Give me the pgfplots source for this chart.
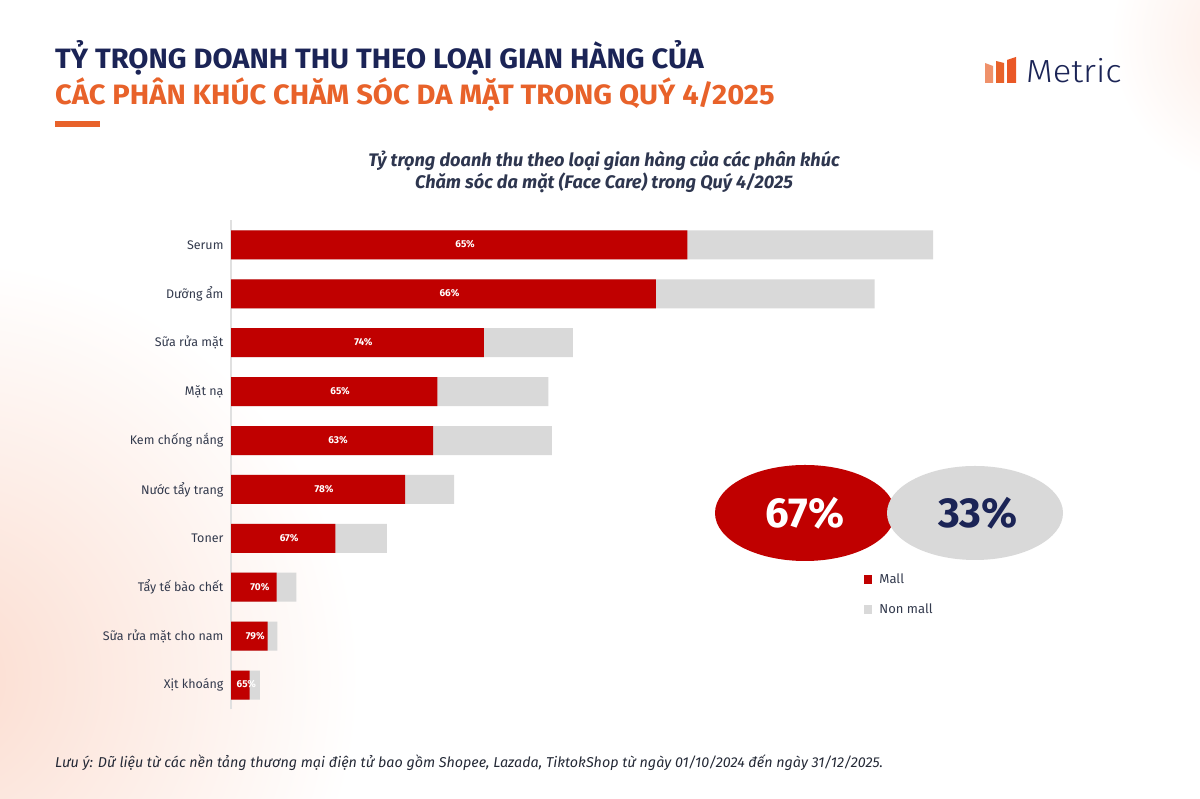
\documentclass[border=0pt]{standalone}
\usepackage{fontspec}
\setmainfont{Fira Sans}
\newfontfamily\titlefont[FakeStretch=1.04]{Fira Sans}
\newfontfamily\brandfont[FakeStretch=1.08]{Fira Sans Light}
\usepackage{pgfplots}
\usepackage{pgfplotstable}
\pgfplotsset{compat=1.18}

\definecolor{mallred}{HTML}{C00000}
\definecolor{nongray}{HTML}{D9D9D9}
\definecolor{navy}{HTML}{1B2456}
\definecolor{brandorange}{HTML}{E8622A}
\definecolor{labeltext}{HTML}{333A4D}
\definecolor{peach}{HTML}{FBDCCF}

% idx: row position (0 = bottom), total: relative revenue (Serum = 100), pct: Mall share
\pgfplotstableread[col sep=comma]{
idx,total,pct
9,100.0,65
8,91.7,66
7,48.7,74
6,45.2,65
5,45.7,63
4,31.8,78
3,22.2,67
2,9.3,70
1,6.6,79
0,4.1,65
}\facecare

\begin{document}
\begin{tikzpicture}[x=1pt,y=1pt]
\useasboundingbox (0,0) rectangle (1200,799);
% page background
\begin{scope}
\clip (0,0) rectangle (1200,799);
\fill[white] (0,0) rectangle (1200,799);
\shade[inner color=peach, outer color=white] (-60,120) circle (420);
\shade[inner color=peach!60, outer color=white] (1260,760) circle (150);
\end{scope}

% heading
\node[anchor=base west, inner sep=0pt, text=navy, font=\titlefont\bfseries\fontsize{28}{30}\selectfont] at (55,730) {TỶ TRỌNG DOANH THU THEO LOẠI GIAN HÀNG CỦA};
\node[anchor=base west, inner sep=0pt, text=brandorange, font=\titlefont\bfseries\fontsize{28}{30}\selectfont] at (55,694) {CÁC PHÂN KHÚC CHĂM SÓC DA MẶT TRONG QUÝ 4/2025};
\fill[brandorange] (55,672) rectangle (100,678);

% brand mark
\fill[brandorange!70] (985,716) -- (993,716) -- (993,733) -- (985,736) -- cycle;
\fill[brandorange] (996,716) -- (1004,716) -- (1004,736) -- (996,738) -- cycle;
\fill[brandorange!90!red] (1007,716) -- (1016,716) -- (1016,742) -- (1007,739) -- cycle;
\node[anchor=base west, inner sep=0pt, text=navy, font=\brandfont\fontsize{32}{33}\selectfont] at (1026,716) {Metric};

% chart heading
\node[align=center, text=labeltext!80!navy, font=\bfseries\itshape\fontsize{18.2}{22}\selectfont] at (604,627) {Tỷ trọng doanh thu theo loại gian hàng của các phân khúc\\Chăm sóc da mặt (Face Care) trong Quý 4/2025};

\begin{axis}[
  at={(231pt,89.5pt)}, anchor=south west,
  scale only axis, width=702pt, height=489pt,
  xmin=0, xmax=100, ymin=-0.5, ymax=9.5,
  axis x line=none,
  axis y line*=left,
  y axis line style={draw=black!12, line width=1.2pt, -},
  ytick={0,...,9},
  yticklabels={Xịt khoáng,Sữa rửa mặt cho nam,Tẩy tế bào chết,Toner,Nước tẩy trang,Kem chống nắng,Mặt nạ,Sữa rửa mặt,Dưỡng ẩm,Serum},
  major tick length=0pt,
  yticklabel style={font=\fontsize{12.5}{14}\selectfont, text=labeltext, xshift=-4pt},
  clip=false,
  legend style={at={(0.902,0.282)}, anchor=north west, draw=none, fill=none,
    font=\fontsize{13}{14}\selectfont, text=labeltext,
    row sep=15pt, column sep=5pt, inner sep=0pt},
  legend cell align=left,
  legend image code/.code={\fill (0pt,-4.5pt) rectangle (8pt,4.5pt);},
]
% whole bar = Mall + Non mall
\addplot[xbar, bar width=29pt, bar shift=0pt, fill=nongray, draw=none, forget plot]
  table[x=total, y=idx] {\facecare};
% Mall part
\addplot[xbar, bar width=29pt, bar shift=0pt, fill=mallred, draw=none, forget plot]
  table[x expr=\thisrow{total}*\thisrow{pct}/100, y=idx] {\facecare};
% share labels at the middle of the Mall part
\addplot[draw=none, mark=none, forget plot,
  nodes near coords={\pgfmathprintnumber[fixed,precision=0,assume math mode=true]{\pgfplotspointmeta}\%},
  point meta=explicit,
  every node near coord/.style={anchor=center, xshift=6pt, yshift=0.5pt, text=white, font=\bfseries\fontsize{10}{11}\selectfont}]
  table[x expr=\thisrow{total}*\thisrow{pct}/200, y=idx, meta=pct] {\facecare};
\addlegendimage{fill=mallred, draw=none}
\addlegendentry{Mall}
\addlegendimage{fill=nongray, draw=none}
\addlegendentry{Non mall}
\end{axis}

% overall share
\fill[mallred] (805,286) ellipse (90 and 48);
\fill[nongray] (975,286) ellipse (88 and 47);
\node[text=white, font=\bfseries\fontsize{42}{44}\selectfont] at (805,286) {67\%};
\node[text=navy, font=\bfseries\fontsize{42}{44}\selectfont] at (978,286) {33\%};

% footnote
\node[anchor=base west, inner sep=0pt, text=labeltext!70!black, font=\itshape\fontsize{14.3}{15}\selectfont] at (55,31) {Lưu ý: Dữ liệu từ các nền tảng thương mại điện tử bao gồm Shopee, Lazada, TiktokShop từ ngày 01/10/2024 đến ngày 31/12/2025.};
\end{tikzpicture}
\end{document}
